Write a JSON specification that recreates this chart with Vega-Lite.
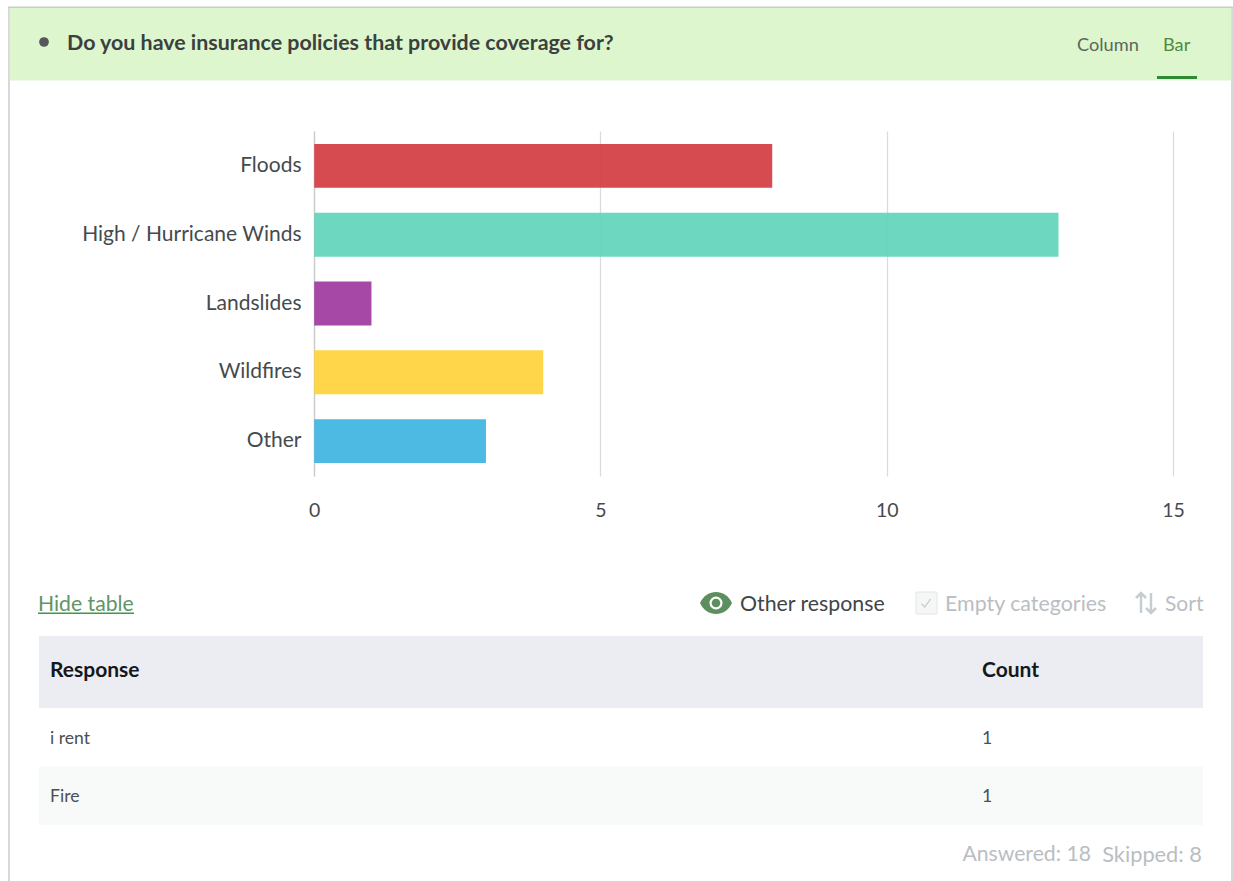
{
"$schema":"https://vega.github.io/schema/vega-lite/v6.json",
"background":"#ffffff","padding":0,"autosize":{"type":"pad"},"bounds":"flush","spacing":0,
"config":{"view":{"stroke":null},"font":"Lato","text":{"font":"Lato"}},
"datasets":{
"frame":[{"edge":"left"},{"edge":"right"}],
"responses":[{"category":"Floods","count":8},{"category":"High / Hurricane Winds","count":13},{"category":"Landslides","count":1},{"category":"Wildfires","count":4},{"category":"Other","count":3}],
"otherAnswers":[{"response":"i rent","count":1},{"response":"Fire","count":1}]
},
"vconcat":[
{"width":1233,"height":131,"resolve":{"scale":{"x":"independent","y":"independent","color":"independent"}},
"layer":[
{"data":{"values":[{"band":"leftEdge"}]},"mark":{"type":"rect","fill":"#cbcbcb"},
"encoding":{"x":{"field":"band","type":"nominal","axis":null,"scale":{"type":"band","domain":["leftEdge"],"range":[8.25,9.75],"paddingInner":0,"paddingOuter":0}},
"y":{"field":"band","type":"nominal","axis":null,"scale":{"type":"band","domain":["leftEdge"],"range":[7,131],"paddingInner":0,"paddingOuter":0}}}},
{"data":{"values":[{"band":"rightEdge"}]},"mark":{"type":"rect","fill":"#cbcbcb"},
"encoding":{"x":{"field":"band","type":"nominal","axis":null,"scale":{"type":"band","domain":["rightEdge"],"range":[1231.25,1232.75],"paddingInner":0,"paddingOuter":0}},
"y":{"field":"band","type":"nominal","axis":null,"scale":{"type":"band","domain":["rightEdge"],"range":[7,131],"paddingInner":0,"paddingOuter":0}}}},
{"data":{"values":[{"band":"banner"}]},"mark":{"type":"rect","fill":"#ddf6cd"},
"encoding":{"x":{"field":"band","type":"nominal","axis":null,"scale":{"type":"band","domain":["banner"],"range":[9.75,1231.25],"paddingInner":0,"paddingOuter":0}},
"y":{"field":"band","type":"nominal","axis":null,"scale":{"type":"band","domain":["banner"],"range":[8,80.5],"paddingInner":0,"paddingOuter":0}}}},
{"data":{"values":[{"band":"topline"}]},"mark":{"type":"rect","fill":"#cbcbcb"},
"encoding":{"x":{"field":"band","type":"nominal","axis":null,"scale":{"type":"band","domain":["topline"],"range":[8.25,1232.75],"paddingInner":0,"paddingOuter":0}},
"y":{"field":"band","type":"nominal","axis":null,"scale":{"type":"band","domain":["topline"],"range":[6.5,8],"paddingInner":0,"paddingOuter":0}}}},
{"data":{"values":[{"band":"selected"}]},"mark":{"type":"rect","fill":"#2e8b34"},
"encoding":{"x":{"field":"band","type":"nominal","axis":null,"scale":{"type":"band","domain":["selected"],"range":[1157,1197],"paddingInner":0,"paddingOuter":0}},
"y":{"field":"band","type":"nominal","axis":null,"scale":{"type":"band","domain":["selected"],"range":[76,79],"paddingInner":0,"paddingOuter":0}}}},
{"data":{"values":[{"item":"bullet"}]},"mark":{"type":"point","filled":true,"shape":"circle","size":95,"color":"#55585a","opacity":1},
"encoding":{"x":{"field":"item","type":"nominal","axis":null,"scale":{"type":"point","domain":["bullet"],"range":[44,44]}},
"y":{"field":"item","type":"nominal","axis":null,"scale":{"type":"point","domain":["bullet"],"range":[42,42]}}}},
{"data":{"values":[{"label":"Do you have insurance policies that provide coverage for?"}]},"mark":{"type":"text","align":"left","baseline":"middle","fontSize":21.4,"fontWeight":"bold","color":"#3b4040"},
"encoding":{"text":{"field":"label"},"x":{"field":"label","type":"nominal","axis":null,"scale":{"type":"point","range":[67,67]}},
"y":{"field":"label","type":"nominal","axis":null,"scale":{"type":"point","range":[44,44]}}}},
{"data":{"values":[{"label":"Column"}]},"mark":{"type":"text","align":"left","baseline":"middle","fontSize":18.2,"color":"#5c665c"},
"encoding":{"text":{"field":"label"},"x":{"field":"label","type":"nominal","axis":null,"scale":{"type":"point","range":[1077,1077]}},
"y":{"field":"label","type":"nominal","axis":null,"scale":{"type":"point","range":[46,46]}}}},
{"data":{"values":[{"label":"Bar"}]},"mark":{"type":"text","align":"left","baseline":"middle","fontSize":18.2,"color":"#4f8a3f"},
"encoding":{"text":{"field":"label"},"x":{"field":"label","type":"nominal","axis":null,"scale":{"type":"point","range":[1163,1163]}},
"y":{"field":"label","type":"nominal","axis":null,"scale":{"type":"point","range":[46,46]}}}}
]},
{"width":1233,"height":345,"resolve":{"scale":{"x":"independent"}},
"layer":[
{"data":{"name":"frame"},"mark":{"type":"rule","stroke":"#cbcbcb","strokeWidth":1.5},
"encoding":{"x":{"field":"edge","type":"nominal","axis":null,"scale":{"type":"point","padding":0,"domain":["left","right"],"range":[9,1232]}}}},
{"data":{"name":"responses"},"mark":{"type":"bar","opacity":0.92},
"encoding":{
"x":{"field":"count","type":"quantitative","title":null,"scale":{"domain":[0,15],"range":[314.2,1173],"nice":false},
"axis":{"values":[0,5,10,15],"grid":true,"gridColor":"#dcdcdc","gridWidth":1.3,"domain":false,"ticks":false,"labelFlush":false,"labelPadding":25,"labelFontSize":19.5,"labelColor":"#454a4d","labelFont":"Lato"}},
"y":{"field":"category","type":"nominal","title":null,"sort":null,"scale":{"paddingInner":0.362,"paddingOuter":0.188},
"axis":{"orient":"left","offset":-314,"domain":true,"domainColor":"#cccccc","domainWidth":1.3,"ticks":false,"labelPadding":13,"labelLimit":320,"labelFontSize":21,"labelColor":"#454a4d","labelFont":"Lato","grid":false}},
"color":{"field":"category","type":"nominal","legend":null,"scale":{"domain":["Floods","High / Hurricane Winds","Landslides","Wildfires","Other"],"range":["#d23c41","#62d4ba","#9e3a9e","#ffd13a","#3db4e0"]}}}}
]},
{"width":1233,"height":405,"resolve":{"scale":{"x":"independent","y":"independent","color":"independent"}},
"layer":[
{"data":{"name":"frame"},"mark":{"type":"rule","stroke":"#cbcbcb","strokeWidth":1.5},
"encoding":{"x":{"field":"edge","type":"nominal","axis":null,"scale":{"type":"point","padding":0,"domain":["left","right"],"range":[9,1232]}}}},
{"data":{"values":[{"label":"Hide table"}]},"mark":{"type":"text","align":"left","baseline":"middle","fontSize":21.2,"color":"#5f9468"},
"encoding":{"text":{"field":"label"},"x":{"field":"label","type":"nominal","axis":null,"scale":{"type":"point","range":[38,38]}},
"y":{"field":"label","type":"nominal","axis":null,"scale":{"type":"point","range":[129,129]}}}},
{"data":{"values":[{"band":"link"}]},"mark":{"type":"rect","fill":"#3c9a46"},
"encoding":{"x":{"field":"band","type":"nominal","axis":null,"scale":{"type":"band","domain":["link"],"range":[38,134],"paddingInner":0,"paddingOuter":0}},
"y":{"field":"band","type":"nominal","axis":null,"scale":{"type":"band","domain":["link"],"range":[136.5,138],"paddingInner":0,"paddingOuter":0}}}},
{"data":{"values":[{"item":"eye"}]},"mark":{"type":"point","filled":true,"opacity":1,"color":"#5d8f5e","size":1024,"shape":"M-1,0 C-0.6,-0.92 0.6,-0.92 1,0 C0.6,0.92 -0.6,0.92 -1,0 Z"},
"encoding":{"x":{"field":"item","type":"nominal","axis":null,"scale":{"type":"point","range":[716,716]}},
"y":{"field":"item","type":"nominal","axis":null,"scale":{"type":"point","range":[127,127]}}}},
{"data":{"values":[{"item":"iris"}]},"mark":{"type":"point","filled":true,"opacity":1,"color":"#ffffff","size":170,"shape":"circle"},
"encoding":{"x":{"field":"item","type":"nominal","axis":null,"scale":{"type":"point","range":[716,716]}},
"y":{"field":"item","type":"nominal","axis":null,"scale":{"type":"point","range":[127,127]}}}},
{"data":{"values":[{"item":"pupil"}]},"mark":{"type":"point","filled":true,"opacity":1,"color":"#5d8f5e","size":75,"shape":"circle"},
"encoding":{"x":{"field":"item","type":"nominal","axis":null,"scale":{"type":"point","range":[716,716]}},
"y":{"field":"item","type":"nominal","axis":null,"scale":{"type":"point","range":[127,127]}}}},
{"data":{"values":[{"label":"Other response"}]},"mark":{"type":"text","align":"left","baseline":"middle","fontSize":21.3,"color":"#3f4548"},
"encoding":{"text":{"field":"label"},"x":{"field":"label","type":"nominal","axis":null,"scale":{"type":"point","range":[740,740]}},
"y":{"field":"label","type":"nominal","axis":null,"scale":{"type":"point","range":[129,129]}}}},
{"data":{"values":[{"band":"checkbox"}]},"mark":{"type":"rect","fill":"#f5f6f6","stroke":"#e4e6e6"},
"encoding":{"x":{"field":"band","type":"nominal","axis":null,"scale":{"type":"band","domain":["checkbox"],"range":[916,937],"paddingInner":0,"paddingOuter":0}},
"y":{"field":"band","type":"nominal","axis":null,"scale":{"type":"band","domain":["checkbox"],"range":[116,138],"paddingInner":0,"paddingOuter":0}}}},
{"data":{"values":[{"item":"check"}]},"mark":{"type":"point","filled":false,"opacity":1,"stroke":"#c9cdcd","strokeWidth":1.3,"size":169,"shape":"M-0.7,0.1 L-0.2,0.6 L0.7,-0.6"},
"encoding":{"x":{"field":"item","type":"nominal","axis":null,"scale":{"type":"point","range":[926,926]}},
"y":{"field":"item","type":"nominal","axis":null,"scale":{"type":"point","range":[127,127]}}}},
{"data":{"values":[{"label":"Empty categories"}]},"mark":{"type":"text","align":"left","baseline":"middle","fontSize":21.4,"color":"#b9bec2"},
"encoding":{"text":{"field":"label"},"x":{"field":"label","type":"nominal","axis":null,"scale":{"type":"point","range":[945,945]}},
"y":{"field":"label","type":"nominal","axis":null,"scale":{"type":"point","range":[129,129]}}}},
{"data":{"values":[{"item":"sortIcon"}]},"mark":{"type":"point","filled":false,"opacity":1,"stroke":"#c5cdd2","strokeWidth":2.5,"size":400,"shape":"M-0.5,1 L-0.5,-1 M-1,-0.5 L-0.5,-1 L0,-0.5 M0.5,-1 L0.5,1 M0,0.5 L0.5,1 L1,0.5"},
"encoding":{"x":{"field":"item","type":"nominal","axis":null,"scale":{"type":"point","range":[1146,1146]}},
"y":{"field":"item","type":"nominal","axis":null,"scale":{"type":"point","range":[127,127]}}}},
{"data":{"values":[{"label":"Sort"}]},"mark":{"type":"text","align":"left","baseline":"middle","fontSize":21,"color":"#b9bec2"},
"encoding":{"text":{"field":"label"},"x":{"field":"label","type":"nominal","axis":null,"scale":{"type":"point","range":[1165,1165]}},
"y":{"field":"label","type":"nominal","axis":null,"scale":{"type":"point","range":[129,129]}}}},
{"data":{"values":[{"band":"head"}]},"mark":{"type":"rect","fill":"#ecedf2"},
"encoding":{"x":{"field":"band","type":"nominal","axis":null,"scale":{"type":"band","domain":["head"],"range":[39,1203],"paddingInner":0,"paddingOuter":0}},
"y":{"field":"band","type":"nominal","axis":null,"scale":{"type":"band","domain":["head"],"range":[160,232],"paddingInner":0,"paddingOuter":0}}}},
{"data":{"values":[{"column":"Response"},{"column":"Count"}]},"mark":{"type":"text","align":"left","baseline":"middle","fontSize":21,"fontWeight":"bold","color":"#14181c"},
"encoding":{"text":{"field":"column"},"x":{"field":"column","type":"nominal","axis":null,"scale":{"type":"point","padding":0,"domain":["Response","Count"],"range":[50,982]}},
"y":{"datum":"head","type":"nominal","axis":null,"scale":{"type":"point","domain":["head"],"range":[195,195]}}}},
{"data":{"name":"otherAnswers"},"mark":{"type":"rect"},
"encoding":{"x":{"datum":"row","type":"nominal","axis":null,"scale":{"type":"band","domain":["row"],"range":[39,1203],"paddingInner":0,"paddingOuter":0}},
"y":{"field":"response","type":"nominal","axis":null,"scale":{"type":"band","domain":["i rent","Fire"],"range":[232,349],"paddingInner":0,"paddingOuter":0}},
"color":{"field":"response","type":"nominal","legend":null,"scale":{"domain":["i rent","Fire"],"range":["#ffffff","#f8fafa"]}}}},
{"data":{"name":"otherAnswers"},"mark":{"type":"text","align":"left","baseline":"middle","fontSize":17.6,"color":"#4a4f52"},
"encoding":{"text":{"field":"response"},"x":{"datum":"Response","type":"nominal","axis":null,"scale":{"type":"point","padding":0,"domain":["Response","Count"],"range":[50,982]}},
"y":{"field":"response","type":"nominal","axis":null,"scale":{"type":"band","domain":["i rent","Fire"],"range":[233.5,350.5],"paddingInner":0,"paddingOuter":0}}}},
{"data":{"name":"otherAnswers"},"mark":{"type":"text","align":"left","baseline":"middle","fontSize":17.6,"color":"#4a4f52"},
"encoding":{"text":{"field":"count"},"x":{"datum":"Count","type":"nominal","axis":null,"scale":{"type":"point","padding":0,"domain":["Response","Count"],"range":[50,982]}},
"y":{"field":"response","type":"nominal","axis":null,"scale":{"type":"band","domain":["i rent","Fire"],"range":[233.5,350.5],"paddingInner":0,"paddingOuter":0}}}},
{"data":{"values":[{"label":"Answered: 18"}]},"mark":{"type":"text","align":"right","baseline":"middle","fontSize":21.2,"color":"#b9bec2"},
"encoding":{"text":{"field":"label"},"x":{"field":"label","type":"nominal","axis":null,"scale":{"type":"point","range":[1091,1091]}},
"y":{"field":"label","type":"nominal","axis":null,"scale":{"type":"point","range":[379,379]}}}},
{"data":{"values":[{"label":"Skipped: 8"}]},"mark":{"type":"text","align":"right","baseline":"middle","fontSize":21.8,"color":"#b9bec2"},
"encoding":{"text":{"field":"label"},"x":{"field":"label","type":"nominal","axis":null,"scale":{"type":"point","range":[1202,1202]}},
"y":{"field":"label","type":"nominal","axis":null,"scale":{"type":"point","range":[379,379]}}}}
]}
]
}
